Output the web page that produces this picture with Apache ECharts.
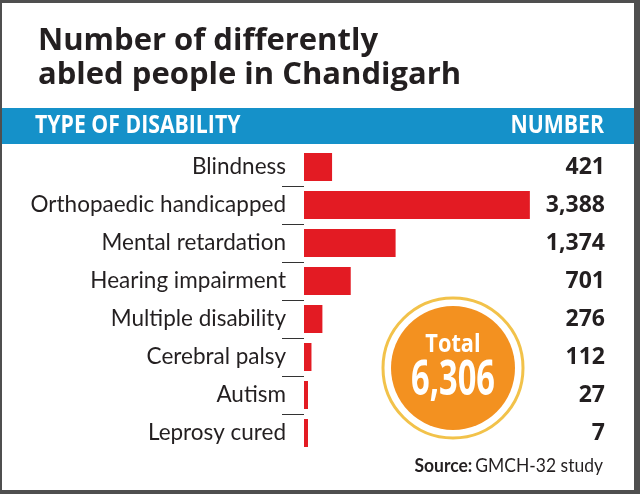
<!DOCTYPE html>
<html>
<head>
<meta charset="utf-8">
<script src="https://cdn.jsdelivr.net/npm/echarts@6/dist/echarts.min.js"></script>
<style>
  html, body { margin: 0; padding: 0; background: #fff; }
  #chart { width: 640px; height: 494px; }
</style>
</head>
<body>
<div id="chart"></div>
<script>
const categories = ['Blindness', 'Orthopaedic handicapped', 'Mental retardation', 'Hearing impairment',
  'Multiple disability', 'Cerebral palsy', 'Autism', 'Leprosy cured']
const values = [421, 3388, 1374, 701, 276, 112, 27, 7]
const titleLines = ['Number of differently', 'abled people in Chandigarh']
const sourceLabel = 'Source:'
const sourceText = 'GMCH-32 study'

const fmt = v => v.toLocaleString('en-US')
const total = values.reduce((a, b) => a + b, 0)

const chart = echarts.init(document.getElementById('chart'))

const FRAME = '#4f4f4f'
const BLUE = '#1591c9'
const RED = '#e31b23'
const ORANGE = '#f39120'
const GOLD = '#f2c24a'
const INK = '#231f20'
const BOLD = 'Open Sans'

chart.setOption({
  backgroundColor: '#fff',
  animation: false,
  title: {
    text: titleLines.join('\n'),
    left: 33, top: 19,
    textStyle: { fontFamily: BOLD, fontWeight: 'bold', fontSize: 31, lineHeight: 34, color: INK },
  },
  grid: { left: 304, right: 36, top: 148, bottom: 42 },
  xAxis: { type: 'value', min: 0, max: 4500, show: false },
  yAxis: [
    {
      type: 'category', data: categories, inverse: true,
      axisLine: { show: false }, axisTick: { show: false },
      axisLabel: { color: INK, fontFamily: 'Lato', fontSize: 22.5, margin: 18 },
    },
    {
      type: 'category', data: values.map(fmt), inverse: true, position: 'right',
      axisLine: { show: false }, axisTick: { show: false },
      axisLabel: { color: INK, fontFamily: BOLD, fontWeight: 'bold', fontSize: 23, margin: 1, align: 'right' },
    },
  ],
  series: [
    {
      type: 'bar', data: values, barWidth: 28, barMinHeight: 4,
      itemStyle: { color: RED },
    },
    {
      // short separators between rows, left of the bars
      type: 'custom',
      data: categories.map((c, i) => [0, i]),
      encode: { x: 0, y: 1 },
      renderItem: (params, api) => {
        if (params.dataIndex === categories.length - 1) return null
        const p = api.coord([0, api.value(1)])
        const band = api.size([0, 1])[1]
        const y = Math.round(p[1] + band / 2) + 0.5
        return {
          type: 'line',
          shape: { x1: p[0] - 22, y1: y, x2: p[0], y2: y },
          style: { stroke: '#333', lineWidth: 1 },
        }
      },
      z: 1,
    },
  ],
  graphic: [
    // frame
    { type: 'rect', shape: { x: 0, y: 0, width: 640, height: 3 }, style: { fill: FRAME }, z: 100 },
    { type: 'rect', shape: { x: 0, y: 0, width: 2, height: 494 }, style: { fill: FRAME }, z: 100 },
    { type: 'rect', shape: { x: 634, y: 0, width: 6, height: 494 }, style: { fill: FRAME }, z: 100 },
    { type: 'rect', shape: { x: 0, y: 490, width: 640, height: 4 }, style: { fill: FRAME }, z: 100 },
    // header band
    { type: 'rect', shape: { x: 2, y: 108, width: 632, height: 36 }, style: { fill: BLUE }, z: 0 },
    {
      type: 'text', x: 35, y: 126, scaleX: 0.85, z: 1,
      style: { text: 'TYPE OF DISABILITY', fill: '#fff', fontFamily: BOLD, fontWeight: 'bold', fontSize: 25, verticalAlign: 'middle' },
    },
    {
      type: 'text', x: 604, y: 126, scaleX: 0.85, z: 1,
      style: { text: 'NUMBER', fill: '#fff', fontFamily: BOLD, fontWeight: 'bold', fontSize: 25, align: 'right', verticalAlign: 'middle' },
    },
    // total badge
    { type: 'circle', shape: { cx: 453, cy: 368, r: 70 }, style: { fill: '#fff', stroke: GOLD, lineWidth: 3 }, z: 5 },
    { type: 'circle', shape: { cx: 453, cy: 368, r: 62 }, style: { fill: ORANGE }, z: 6 },
    {
      type: 'text', x: 453, y: 345, scaleX: 0.87, z: 7,
      style: { text: 'Total', fill: '#fff', fontFamily: BOLD, fontWeight: 'bold', fontSize: 25, align: 'center', verticalAlign: 'middle' },
    },
    {
      type: 'text', x: 453, y: 381, scaleX: 0.68, z: 7,
      style: { text: fmt(total), fill: '#fff', fontFamily: BOLD, fontWeight: 'bold', fontSize: 48, align: 'center', verticalAlign: 'middle' },
    },
    // source
    {
      type: 'text', x: 603, y: 466, scaleX: 0.92, z: 7,
      style: {
        text: '{b|' + sourceLabel + '} {r|' + sourceText + '}',
        align: 'right', verticalAlign: 'middle',
        rich: {
          b: { fontFamily: 'Lato', fontWeight: 'bold', fontSize: 19, fill: INK },
          r: { fontFamily: 'Lato', fontSize: 19, fill: INK },
        },
      },
    },
  ],
})
window.addEventListener('resize', () => chart.resize())
</script>
</body>
</html>
